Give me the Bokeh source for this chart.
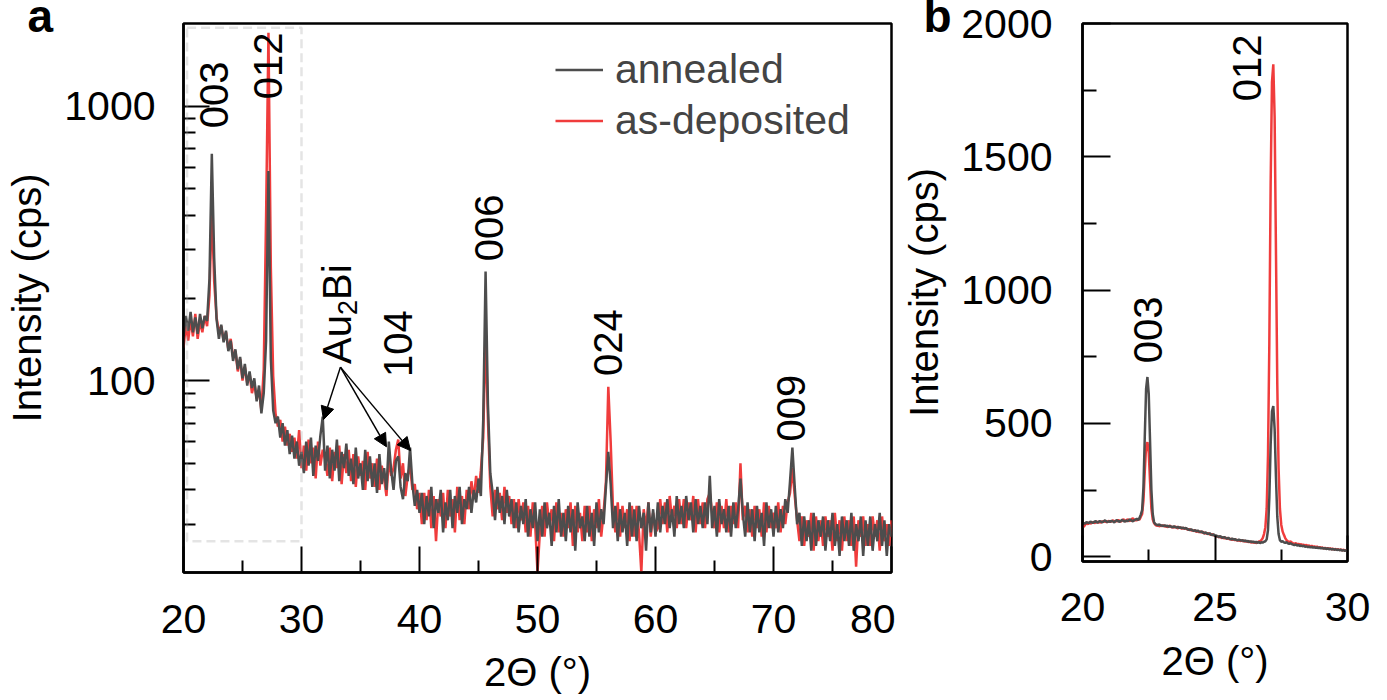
import numpy as np
from math import pi
from bokeh.plotting import figure
from bokeh.layouts import row
from bokeh.models import (FixedTicker, Label, Arrow, NormalHead, Legend, LegendItem, Title,
                          Range1d, BoxAnnotation, ColumnDataSource, BasicTickFormatter)
from bokeh.core.properties import value
from bokeh.embed import file_html
from bokeh.resources import INLINE

FONT = "Liberation Sans"
GRAY = "#4d4d4d"
RED = "#f03c3c"

# ---------------- panel a : full scan, 0.2 deg step, 20..80 ----------------
two_theta_a = np.round(np.linspace(20.0, 80.0, 301), 2)

annealed_a = [
    # 20.0 - 30.0
    145, 172, 152, 178, 150, 170, 148, 175, 155, 172,
    165, 235, 670, 280, 168, 142, 160, 138, 152, 128,
    140, 118, 130, 110, 122, 102, 115, 96, 108, 94,
    102, 84, 96, 76, 90, 140, 580, 120, 78, 70,
    74, 62, 70, 58, 66, 54, 63, 52, 60, 49, 55,
    # 30.2 - 80.0
    46, 60, 49, 62, 45, 58, 51, 63, 74, 47,
    58, 44, 56, 47, 61, 43, 55, 48, 59, 45,
    52, 42, 57, 44, 50, 40, 56, 43, 53, 41,
    50, 39, 54, 42, 48, 40, 60, 47, 40, 51,
    53, 41, 37, 46, 43, 57, 42, 35, 40, 33,
    39, 30, 38, 32, 41, 29, 37, 33, 40, 28,
    36, 31, 40, 29, 38, 33, 41, 30, 37, 34,
    41, 33, 40, 36, 44, 38, 72, 250, 82, 46,
    39, 31, 41, 33, 38, 30, 40, 32, 37, 29,
    36, 28, 35, 30, 37, 27, 34, 29, 36, 26,
    34, 27, 36, 29, 33, 25, 35, 28, 37, 27,
    33, 26, 35, 28, 34, 24, 36, 29, 32, 26,
    35, 27, 33, 25, 36, 28, 34, 30, 41, 55,
    42, 29, 35, 26, 34, 28, 33, 25, 36, 27,
    34, 26, 35, 29, 33, 24, 36, 28, 34, 27,
    36, 28, 35, 30, 37, 29, 34, 27, 38, 30,
    35, 29, 38, 31, 36, 28, 37, 30, 35, 29,
    36, 30, 45, 29, 35, 27, 37, 30, 34, 28,
    35, 27, 36, 29, 34, 44, 33, 27, 36, 28,
    34, 26, 35, 28, 33, 25, 36, 29, 34, 27,
    35, 28, 34, 29, 37, 33, 43, 57, 41, 30,
    33, 25, 32, 26, 31, 24, 33, 25, 31, 27,
    32, 24, 31, 26, 33, 25, 30, 23, 32, 26,
    31, 25, 33, 24, 30, 26, 32, 23, 31, 25,
    32, 24, 30, 26, 33, 25, 31, 23, 30, 27,
]

as_deposited_a = [
    # 20.0 - 30.0
    132, 160, 140, 168, 145, 175, 142, 165, 150, 172,
    158, 205, 430, 230, 170, 150, 158, 140, 150, 130,
    142, 122, 128, 108, 120, 100, 112, 98, 106, 90,
    98, 86, 92, 78, 110, 400, 1850, 260, 104, 76,
    68, 72, 60, 68, 58, 64, 55, 62, 52, 66, 48,
    # 30.2 - 80.0
    58, 47, 61, 50, 57, 44, 60, 49, 56, 52,
    45, 57, 43, 55, 48, 58, 42, 54, 46, 56,
    43, 54, 41, 53, 45, 51, 40, 55, 44, 50,
    41, 52, 40, 49, 44, 38, 52, 45, 48, 56,
    61, 44, 50, 38, 45, 49, 40, 42, 34, 39,
    30, 39, 31, 40, 29, 38, 26, 37, 32, 39,
    29, 40, 32, 37, 28, 41, 31, 38, 30, 40,
    34, 43, 37, 45, 39, 47, 62, 152, 72, 41,
    32, 40, 34, 39, 31, 41, 33, 38, 30, 37,
    29, 37, 31, 36, 28, 35, 27, 36, 30, 20,
    28, 35, 27, 36, 30, 34, 26, 36, 28, 33,
    27, 34, 29, 36, 25, 35, 28, 33, 26, 35,
    28, 35, 26, 34, 29, 37, 27, 33, 43, 95,
    60, 34, 28, 36, 27, 35, 29, 34, 26, 35,
    27, 35, 28, 20, 34, 29, 36, 27, 33, 28,
    29, 37, 30, 36, 28, 38, 31, 35, 29, 37,
    30, 37, 29, 36, 31, 38, 28, 37, 30, 36,
    29, 37, 39, 33, 29, 36, 28, 35, 29, 37,
    28, 35, 30, 36, 29, 50, 31, 35, 28, 34,
    27, 35, 29, 34, 27, 36, 28, 35, 29, 33,
    29, 36, 28, 35, 30, 36, 39, 48, 38, 31,
    26, 32, 25, 31, 27, 33, 24, 32, 26, 31,
    25, 32, 27, 31, 24, 33, 26, 31, 24, 32,
    26, 31, 25, 32, 21, 31, 27, 32, 25, 30,
    25, 32, 27, 31, 24, 32, 26, 30, 25, 31,
]

# ---------------- panel b : zoom 20..30, 0.05 deg step ----------------
two_theta_b = np.round(np.linspace(20.0, 30.0, 201), 3)

annealed_b = [
    122, 126, 124, 130, 128, 126, 132, 129, 127, 131, 133, 128, 130, 134, 131, 129, 133, 136, 132, 130,
    133, 131, 135, 132, 129, 134, 137, 133, 131, 135, 138, 134, 132, 136, 133, 137, 140, 135, 133, 137,
    139, 142, 138, 145, 158, 175, 260, 450, 630, 674, 610, 430, 250, 160, 130, 122, 120, 118, 121, 117,
    117, 115, 118, 114, 116, 112, 115, 113, 110, 114, 111, 109, 112, 108, 110, 107, 109, 105, 108, 104,
    102, 100, 103, 99, 97, 100, 95, 98, 94, 92, 95, 90, 88, 91, 87, 85, 88, 83, 81, 84,
    78, 80, 76, 74, 77, 73, 71, 74, 70, 68, 71, 67, 65, 68, 64, 66, 63, 61, 64, 62,
    60, 62, 58, 61, 57, 59, 55, 58, 54, 57, 53, 56, 52, 55, 51, 54, 53, 56, 58, 65,
    100, 220, 420, 545, 565, 480, 300, 150, 85, 62, 56, 58, 54, 52, 55, 50, 48, 51, 47, 45,
    44, 46, 42, 44, 40, 42, 39, 41, 37, 39, 36, 38, 35, 37, 34, 36, 33, 35, 32, 34,
    31, 33, 30, 32, 29, 31, 28, 30, 27, 29, 26, 28, 25, 27, 24, 26, 23, 25, 22, 24,
    21,
]

as_deposited_b = [
    118, 112, 120, 126, 122, 128, 124, 127, 130, 126, 129, 132, 127, 131, 128, 133, 130, 135, 129, 132,
    134, 130, 133, 136, 131, 135, 132, 138, 134, 131, 137, 140, 135, 133, 141, 136, 134, 139, 145, 137,
    138, 136, 141, 139, 150, 160, 210, 320, 415, 430, 390, 280, 180, 140, 126, 120, 116, 118, 114, 117,
    115, 118, 113, 116, 111, 114, 117, 110, 112, 109, 113, 110, 106, 111, 108, 105, 109, 104, 107, 103,
    101, 104, 98, 100, 96, 99, 93, 96, 92, 95, 90, 93, 87, 89, 86, 88, 84, 82, 85, 80,
    79, 75, 77, 73, 75, 70, 72, 69, 71, 67, 69, 65, 67, 63, 66, 62, 64, 60, 62, 59,
    61, 58, 60, 56, 59, 55, 57, 53, 56, 52, 55, 51, 54, 57, 58, 62, 70, 85, 110, 180,
    380, 800, 1400, 1780, 1847, 1650, 1150, 650, 330, 180, 120, 95, 82, 70, 62, 58, 55, 57, 53, 50,
    49, 51, 47, 48, 45, 47, 43, 45, 42, 44, 40, 42, 38, 41, 37, 39, 36, 38, 34, 36,
    33, 35, 31, 33, 30, 32, 29, 31, 28, 30, 27, 29, 26, 28, 25, 27, 24, 26, 23, 25,
    22,
]

# peak labels (text, 2theta, intensity at label start)
peaks_a_text = ["003", "012", "104", "006", "024", "009"]
peaks_a_x = [22.55, 27.2, 38.2, 45.85, 56.0, 71.5]
peaks_a_y = [830, 1060, 103, 272, 104, 60]

peaks_b_text = ["003", "012"]
peaks_b_x = [22.46, 26.21]
peaks_b_y = [726, 1708]

# Au2Bi annotation: label anchor, arrow start and arrow tips
au2bi_anchor = (33.0, 115)
arrow_start = (33.3, 112)
arrow_tips_x = [31.86, 37.2, 39.24]
arrow_tips_y = [72.1, 57.4, 55.6]

# dashed zoom box: left, right, bottom, top
zoom_box = [20.3, 30.0, 26, 1930]

x_ticks_a = [20, 30, 40, 50, 60, 70, 80]
x_minor_a = [25, 35, 45, 55, 65, 75]
y_ticks_a = [100, 1000]
y_minor_a = [30, 40, 50, 60, 70, 80, 90, 200, 300, 400, 500, 600, 700, 800, 900]
x_ticks_b = [20, 25, 30]
x_minor_b = [22.5, 27.5]
y_ticks_b = [0, 500, 1000, 1500, 2000]
y_minor_b = [250, 750, 1250, 1750]

TICK_FS = "41px"
TITLE_FS = "40px"
XTITLE = "2\u0398 (\u00b0)"


def style(p, xt, xm, yt, ym, ymaj_in=26, ymin_in=12, xmaj_in=26, xmin_in=12):
    p.grid.visible = False
    p.outline_line_color = "black"
    p.outline_line_width = 2.5
    p.background_fill_color = "white"
    p.border_fill_color = "white"
    p.xaxis.ticker = FixedTicker(ticks=xt, minor_ticks=xm)
    p.yaxis.ticker = FixedTicker(ticks=yt, minor_ticks=ym)
    for ax in (p.xaxis, p.yaxis):
        ax.axis_line_width = 2.5
        ax.axis_line_color = "black"
        ax.major_tick_line_width = 2
        ax.minor_tick_line_width = 2
        ax.major_tick_line_color = "black"
        ax.minor_tick_line_color = "black"
        ax.major_tick_out = 0
        ax.minor_tick_out = 0
        ax.major_label_text_font = FONT
        ax.major_label_text_font_size = TICK_FS
        ax.major_label_text_color = "black"
        ax.axis_label_text_font = FONT
        ax.axis_label_text_font_size = TITLE_FS
        ax.axis_label_text_font_style = "normal"
        ax.axis_label_text_color = "black"
    p.yaxis.major_tick_in = ymaj_in
    p.yaxis.minor_tick_in = ymin_in
    p.xaxis.major_tick_in = xmaj_in
    p.xaxis.minor_tick_in = xmin_in
    p.yaxis.major_label_standoff = 28
    p.yaxis.axis_label_standoff = 12
    p.yaxis.axis_label = "Intensity (cps)"
    p.xaxis.axis_label = XTITLE


def panel_letter(p, text, offset):
    # a short line height lowers the letter from the top edge into place
    p.add_layout(Title(text=text, align="left", vertical_align="top", offset=offset,
                       standoff=-40, text_line_height=0.52,
                       text_font=FONT, text_font_size="46px", text_font_style="bold",
                       text_color="black"), "above")


# ================= panel a =================
pa = figure(width=895, height=700, x_range=Range1d(20, 80), y_range=Range1d(20, 2000),
            y_axis_type="log", output_backend="svg", toolbar_location=None,
            min_border_left=183, min_border_right=4, min_border_top=23, min_border_bottom=128)
style(pa, x_ticks_a, x_minor_a, y_ticks_a, y_minor_a)
pa.yaxis.formatter = BasicTickFormatter(use_scientific=False)
pa.xaxis.major_label_standoff = 32
pa.xaxis.axis_label_standoff = 14

src_a = ColumnDataSource(dict(x=two_theta_a, ann=annealed_a, dep=as_deposited_a))
r_dep_a = pa.line("x", "dep", source=src_a, line_color=RED, line_width=2.5)
r_ann_a = pa.line("x", "ann", source=src_a, line_color=GRAY, line_width=2.5)

pa.add_layout(BoxAnnotation(left=zoom_box[0], right=zoom_box[1], bottom=zoom_box[2], top=zoom_box[3],
                            fill_alpha=0, line_color="#a6a6a6", line_dash="9 5", line_width=2.5))

pa.text(x=peaks_a_x, y=peaks_a_y, text=peaks_a_text, angle=pi / 2, text_font=value(FONT),
        text_font_size="40px", text_align="left", text_baseline="middle", text_color="black")

# Au2Bi rotated label with subscript
pa.add_layout(Label(x=au2bi_anchor[0], y=au2bi_anchor[1], text="Au", angle=pi / 2, text_color="black",
                    text_font=FONT, text_font_size="40px", text_align="left", text_baseline="middle"))
pa.add_layout(Label(x=au2bi_anchor[0], y=au2bi_anchor[1], text="2", angle=pi / 2, text_color="black",
                    x_offset=11, y_offset=49,
                    text_font=FONT, text_font_size="27px", text_align="left", text_baseline="middle"))
pa.add_layout(Label(x=au2bi_anchor[0], y=au2bi_anchor[1], text="Bi", angle=pi / 2, text_color="black",
                    y_offset=64,
                    text_font=FONT, text_font_size="40px", text_align="left", text_baseline="middle"))

for tx, ty in zip(arrow_tips_x, arrow_tips_y):
    pa.add_layout(Arrow(end=NormalHead(size=13, fill_color="black", line_color="black", line_width=1),
                        x_start=arrow_start[0], y_start=arrow_start[1], x_end=tx, y_end=ty,
                        line_width=1.5, line_color="black"))

panel_letter(pa, "a", -156)

legend = Legend(items=[LegendItem(label="annealed", renderers=[r_ann_a]),
                       LegendItem(label="as-deposited", renderers=[r_dep_a])],
                location=(372, 428), border_line_color=None, background_fill_alpha=0,
                label_text_font=FONT, label_text_font_size="41px", glyph_width=48,
                glyph_height=45, label_height=45, spacing=4, padding=0, margin=0,
                label_standoff=12)
pa.add_layout(legend)

# ================= panel b =================
pb = figure(width=492, height=689, x_range=Range1d(20, 30), y_range=Range1d(-18, 2000),
            output_backend="svg", toolbar_location=None,
            min_border_left=187, min_border_right=40, min_border_top=23, min_border_bottom=128)
style(pb, x_ticks_b, x_minor_b, y_ticks_b, y_minor_b, ymaj_in=28, ymin_in=14)
pb.yaxis.major_label_standoff = 30
pb.yaxis.axis_label_standoff = 12
pb.xaxis.major_label_standoff = 31
pb.xaxis.axis_label_standoff = 15

src_b = ColumnDataSource(dict(x=two_theta_b, ann=annealed_b, dep=as_deposited_b))
pb.line("x", "dep", source=src_b, line_color=RED, line_width=2.5)
pb.line("x", "ann", source=src_b, line_color=GRAY, line_width=2.5)

pb.text(x=peaks_b_x, y=peaks_b_y, text=peaks_b_text, angle=pi / 2, text_font=value(FONT),
        text_font_size="40px", text_align="left", text_baseline="middle", text_color="black")

panel_letter(pb, "b", -159)

layout = row(pa, pb)
open("out.html", "w").write(file_html(layout, INLINE))
